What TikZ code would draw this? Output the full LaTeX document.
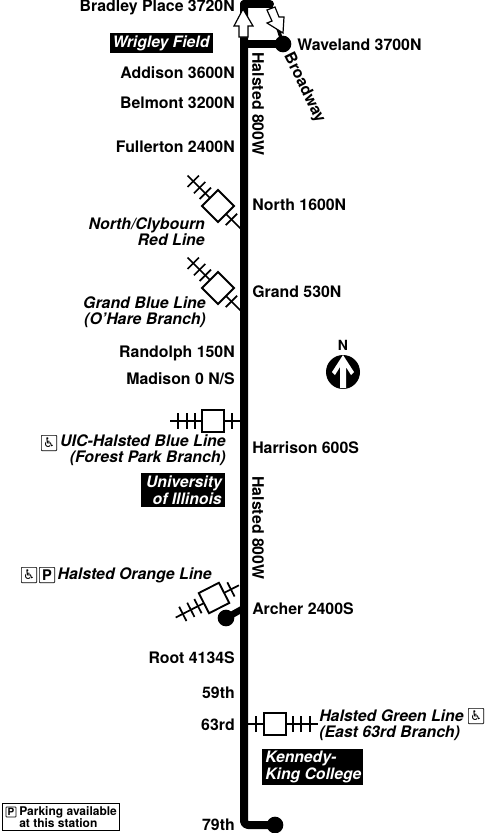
\documentclass[tikz,border=0pt]{standalone}
\usepackage{fontspec}
\setmainfont{TeX Gyre Heros}
\newfontfamily\symfont{DejaVu Sans}
\usetikzlibrary{positioning,arrows.meta}

\begin{document}
\begin{tikzpicture}[
  x=0.75pt, y=-0.75pt,
  route/.style={line width=6pt, line cap=round, line join=round, rounded corners=3pt},
  stopdot/.style={circle, fill=black, inner sep=0pt, minimum size=12.5pt},
  track/.style={line width=1.3pt},
  stationbox/.style={draw, line width=1.4pt, fill=white, minimum size=17pt, inner sep=0pt},
  stopwest/.style={font=\bfseries\fontsize{11.9}{12}\selectfont, anchor=east, inner sep=0pt},
  stopeast/.style={font=\bfseries\fontsize{11.9}{12}\selectfont, anchor=west, inner sep=0pt},
  streetname/.style={font=\bfseries\fontsize{11.9}{12}\selectfont, inner sep=0pt},
  linelabel/.style={font=\bfseries\itshape\fontsize{11.9}{12.2}\selectfont, inner sep=0pt},
  landmark/.style={font=\bfseries\itshape\fontsize{11.8}{12.6}\selectfont, text=white, inner sep=0pt},
  keybox/.style={draw, line width=0.5pt, rounded corners=0.5pt, inner sep=0pt, minimum size=11.5pt},
  dirarrow/.style={draw=black, line width=0.9pt, fill=white},
]
\useasboundingbox (0,0) rectangle (500,833);
\coordinate (bradley) at (244,4);
\coordinate (bend) at (270,4);
\coordinate (split) at (244,44);
\coordinate (south) at (244,825);
\node[stopdot] (waveland) at (283,44) {};
\node[stopdot] (archer) at (226,618) {};
\node[stopdot] (end79) at (275,825) {};
% route
\draw[route] (bradley) -- (split) -- (south) -- (end79.center);
\draw[route] (bradley) -- (bend);
\draw[route] (split) -- (waveland.center);
\draw[line width=2.5pt] (bend) -- (waveland.center);
\draw[line width=5pt] (244,608) -- (archer.center);
% one-way arrows
\draw[dirarrow] (243,9) -- (253,26) -- (248,26) -- (248,37) -- (239,37) -- (239,26) -- (234,26) -- cycle;
\draw[dirarrow] (283,33) -- (267,23) -- (272,21) -- (267,10) -- (275,7) -- (279,17) -- (284,17) -- cycle;
% rail crossings
\foreach \n/\cx/\cy/\a/\r in {1/218/206/-45/32, 2/218/288/-45/32, 3/213/421/0/28, 4/214/598/27/28, 5/275/724/180/28} {
  \begin{scope}[shift={(\cx,\cy)}, rotate=\a]
    \coordinate (in\n) at (\r,0);
    \coordinate (out\n) at (-43,0);
    \draw[track] (in\n) -- (out\n);
    \draw[track] (19,-8) -- (19,8);
    \foreach \t in {-18,-26,-35} \draw[track] (\t,-8) -- (\t,8);
    \node[stationbox, rotate=\a] (sta\n) at (0,0) {};
  \end{scope}
}
% stops
\node[stopwest] (s3720) at (235,7) {Bradley Place 3720N};
\node[stopwest] (s3600) at (235,73) {Addison 3600N};
\node[stopwest] (s3200) at (235,103) {Belmont 3200N};
\node[stopwest] (s2400) at (235,147) {Fullerton 2400N};
\node[stopwest] (s150) at (235,353) {Randolph 150N};
\node[stopwest] (s0) at (235,379) {Madison 0 N/S};
\node[stopwest] (s4134) at (235,658) {Root 4134S};
\node[stopwest] (s59) at (235,693) {59th};
\node[stopwest] (s63) at (235,725) {63rd};
\node[stopwest] (s79) at (235,825) {79th};
\node[stopeast] (s3700) at (297,45) {Waveland 3700N};
\node[stopeast] (s1600) at (252,205) {North 1600N};
\node[stopeast] (s530) at (252,292) {Grand 530N};
\node[stopeast] (s600) at (252,448) {Harrison 600S};
\node[stopeast] (s2400s) at (252,609) {Archer 2400S};
% streets
\node[streetname, rotate=-90] (halsted1) at (258,104) {Halsted 800W};
\node[streetname, rotate=-90] (halsted2) at (258,528) {Halsted 800W};
\node[streetname, rotate=-64] (broadway) at (304,88) {Broadway};
% connecting lines
\node[linelabel, align=right, anchor=east] (clybourn) at (205,232) {North/Clybourn\\Red Line};
\node[linelabel, align=right, anchor=east] (blue1) at (206,312) {Grand Blue Line\\(O'Hare Branch)};
\node[linelabel, align=right, anchor=east] (blue2) at (226,450) {UIC-Halsted Blue Line\\(Forest Park Branch)};
\node[linelabel, anchor=east] (orange) at (212,575) {Halsted Orange Line};
\node[linelabel, align=left, anchor=west] (green) at (319,725) {Halsted Green Line\\(East 63rd Branch)};
% access icons
\node[keybox, font=\symfont\fontsize{10}{10}\selectfont] (wc1) at (49,443) {♿};
\node[keybox, font=\symfont\fontsize{10}{10}\selectfont] (wc2) at (29,575) {♿};
\node[keybox, font=\bfseries\fontsize{11}{11}\selectfont] (park1) at (47,575) {P};
\node[keybox, font=\symfont\fontsize{10}{10}\selectfont] (wc3) at (476,716) {♿};
% landmarks
\fill (110,33) rectangle (213,53);
\node[landmark, anchor=center] (wrigley) at (161,43) {Wrigley Field};
\fill (141,473) rectangle (225,507);
\node[landmark, align=right, anchor=east] (uic) at (222,490) {University\\of Illinois};
\fill (262,749) rectangle (363,785);
\node[landmark, align=left, anchor=west] (kennedy) at (265,767) {Kennedy-\\King College};
% north arrow
\node[font=\bfseries\fontsize{10.5}{10}\selectfont, inner sep=0pt] (northn) at (343,345) {N};
\node[circle, fill=black, inner sep=0pt, minimum size=25.5pt] (compass) at (343,372) {};
\fill[white] (343,355) -- (354,372) -- (351,375) -- (346,367) -- (346,388) -- (340,388) -- (340,367) -- (335,375) -- (332,372) -- cycle;
% legend
\node[draw, line width=0.9pt, minimum width=87.5pt, minimum height=20pt, anchor=north west, inner sep=0pt] (legend) at (2,803) {};
\node[keybox, font=\bfseries\fontsize{7.5}{8}\selectfont, minimum size=7.5pt] (park2) at (11,812) {P};
\node[font=\bfseries\fontsize{9}{9.3}\selectfont, align=left, anchor=west, inner sep=0pt] (legendtext) at (19,817) {Parking available\\at this station};
\end{tikzpicture}
\end{document}
